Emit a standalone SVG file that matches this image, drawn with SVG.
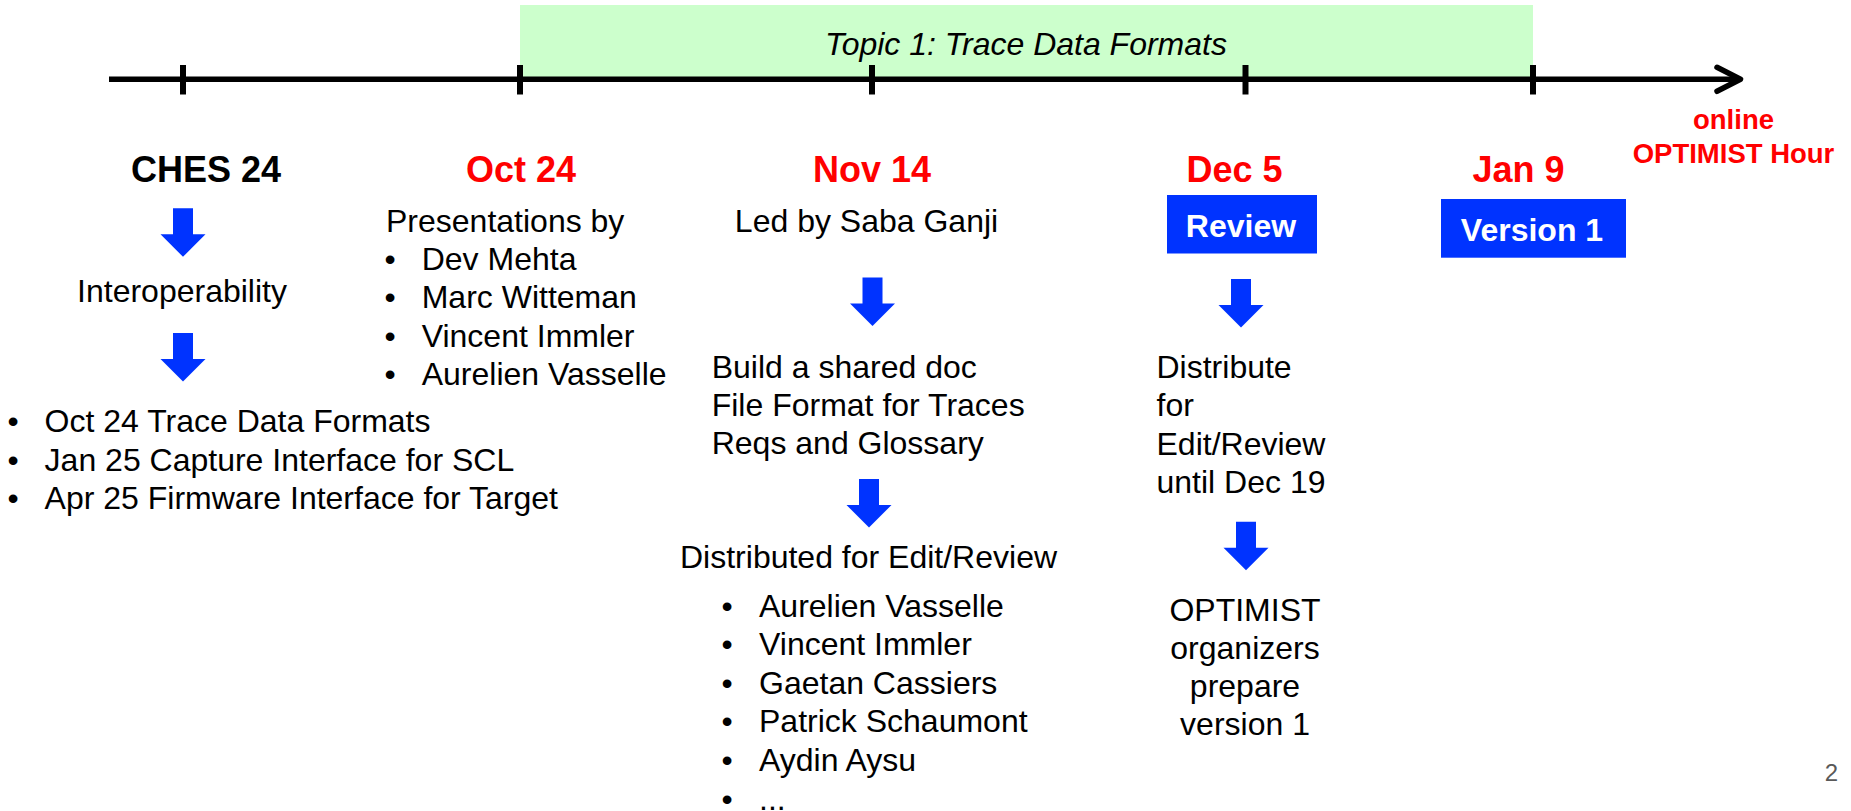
<svg xmlns="http://www.w3.org/2000/svg" xmlns:xlink="http://www.w3.org/1999/xlink" width="1851" height="811" viewBox="0 0 1851 811">
<style>
text{font-family:"Liberation Sans",Arial,sans-serif;}
.t{font-size:32px;fill:#000;}
.c{text-anchor:middle;}
.date{font-size:36px;font-weight:bold;fill:#FF0000;text-anchor:middle;}
.box{fill:#0033FF;}
.btxt{font-size:32px;font-weight:bold;fill:#fff;text-anchor:middle;}
.tick{stroke:#000;stroke-width:6;}
.axis{stroke:#000;stroke-width:5.5;fill:none;stroke-linecap:butt;}
.blue{fill:#0033FF;}
</style>
<defs>
<path id="barrow" d="M-10,0 H10 V26 H22.5 L0,48.5 L-22.5,26 H-10 Z"/>
</defs>
<rect id="topic-band" x="520" y="5" width="1013" height="75" fill="#CCFFCC"/>
<g id="topic-label"><text x="1026" y="55" class="c" style="font-size:32px;font-style:italic">Topic 1: Trace Data Formats</text></g>
<g id="connectors">
<line class="axis" x1="109" y1="79.3" x2="1738" y2="79.3"/>
<polyline points="1717,67.3 1740.5,79.3 1717,91.3" style="stroke:#000;stroke-width:5.5;fill:none;stroke-linecap:round;stroke-linejoin:round"/>
<line class="tick" x1="183" y1="65" x2="183" y2="94.5"/>
<line class="tick" x1="520" y1="65" x2="520" y2="94.5"/>
<line class="tick" x1="872" y1="65" x2="872" y2="94.5"/>
<line class="tick" x1="1245.5" y1="65" x2="1245.5" y2="94.5"/>
<line class="tick" x1="1533" y1="65" x2="1533" y2="94.5"/>
<use xlink:href="#barrow" href="#barrow" class="blue" x="183" y="208.3"/>
<use xlink:href="#barrow" href="#barrow" class="blue" x="183" y="333"/>
<use xlink:href="#barrow" href="#barrow" class="blue" x="872.5" y="277.5"/>
<use xlink:href="#barrow" href="#barrow" class="blue" x="869" y="479"/>
<use xlink:href="#barrow" href="#barrow" class="blue" x="1241" y="279"/>
<use xlink:href="#barrow" href="#barrow" class="blue" x="1246" y="521.7"/>
</g>
<g id="ches24">
<text x="206" y="182.3" style="font-size:36px;font-weight:bold;text-anchor:middle">CHES 24</text>
<text x="182" y="301.7" class="t c">Interoperability</text>
<text class="t" y="431.7"><tspan x="7.5">•</tspan><tspan x="44.6">Oct 24 Trace Data Formats</tspan></text>
<text class="t" y="470.7"><tspan x="7.5">•</tspan><tspan x="44.6">Jan 25 Capture Interface for SCL</tspan></text>
<text class="t" y="508.8"><tspan x="7.5">•</tspan><tspan x="44.6">Apr 25 Firmware Interface for Target</tspan></text>
</g>
<g id="oct24">
<text x="521" y="182.3" class="date">Oct 24</text>
<text x="386" y="231.5" class="t">Presentations by</text>
<text class="t" y="269.5"><tspan x="384.5">•</tspan><tspan x="421.7">Dev Mehta</tspan></text>
<text class="t" y="308.3"><tspan x="384.5">•</tspan><tspan x="421.7">Marc Witteman</tspan></text>
<text class="t" y="346.8"><tspan x="384.5">•</tspan><tspan x="421.7">Vincent Immler</tspan></text>
<text class="t" y="385.3"><tspan x="384.5">•</tspan><tspan x="421.7">Aurelien Vasselle</tspan></text>
</g>
<g id="nov14">
<text x="872" y="182.3" class="date">Nov 14</text>
<text x="866.5" y="231.5" class="t c">Led by Saba Ganji</text>
<text x="711.7" y="378.3" class="t">Build a shared doc</text>
<text x="711.7" y="416" class="t">File Format for Traces</text>
<text x="711.7" y="453.5" class="t">Reqs and Glossary</text>
<text x="680" y="568.3" class="t">Distributed for Edit/Review</text>
<text class="t" y="617.3"><tspan x="721.5">•</tspan><tspan x="759">Aurelien Vasselle</tspan></text>
<text class="t" y="655.3"><tspan x="721.5">•</tspan><tspan x="759">Vincent Immler</tspan></text>
<text class="t" y="693.5"><tspan x="721.5">•</tspan><tspan x="759">Gaetan Cassiers</tspan></text>
<text class="t" y="731.7"><tspan x="721.5">•</tspan><tspan x="759">Patrick Schaumont</tspan></text>
<text class="t" y="771.2"><tspan x="721.5">•</tspan><tspan x="759">Aydin Aysu</tspan></text>
<text class="t" y="809.5"><tspan x="721.5">•</tspan><tspan x="759">...</tspan></text>
</g>
<g id="dec5">
<text x="1234.5" y="182.3" class="date">Dec 5</text>
<rect class="box" x="1167" y="195" width="150" height="58.5"/>
<text x="1241" y="237.3" class="btxt">Review</text>
<text x="1156.5" y="378.3" class="t">Distribute</text>
<text x="1156.5" y="416" class="t">for</text>
<text x="1156.5" y="455" class="t">Edit/Review</text>
<text x="1156.5" y="493.3" class="t">until Dec 19</text>
<text x="1245" y="620.7" class="t c">OPTIMIST</text>
<text x="1245" y="658.5" class="t c">organizers</text>
<text x="1245" y="696.7" class="t c">prepare</text>
<text x="1245" y="735" class="t c">version 1</text>
</g>
<g id="jan9">
<text x="1518.5" y="182.3" class="date">Jan 9</text>
<rect class="box" x="1441" y="199" width="185" height="58.7"/>
<text x="1532" y="240.7" class="btxt">Version 1</text>
</g>
<g id="online-hour">
<text x="1733.5" y="129" style="font-size:27.5px;font-weight:bold;fill:#FF0000;text-anchor:middle">online</text>
<text x="1733.5" y="163.3" style="font-size:27.5px;font-weight:bold;fill:#FF0000;text-anchor:middle">OPTIMIST Hour</text>
</g>
<g id="page-number">
<text x="1838" y="780.7" style="font-size:24px;fill:#595959;text-anchor:end">2</text>
</g>
</svg>
